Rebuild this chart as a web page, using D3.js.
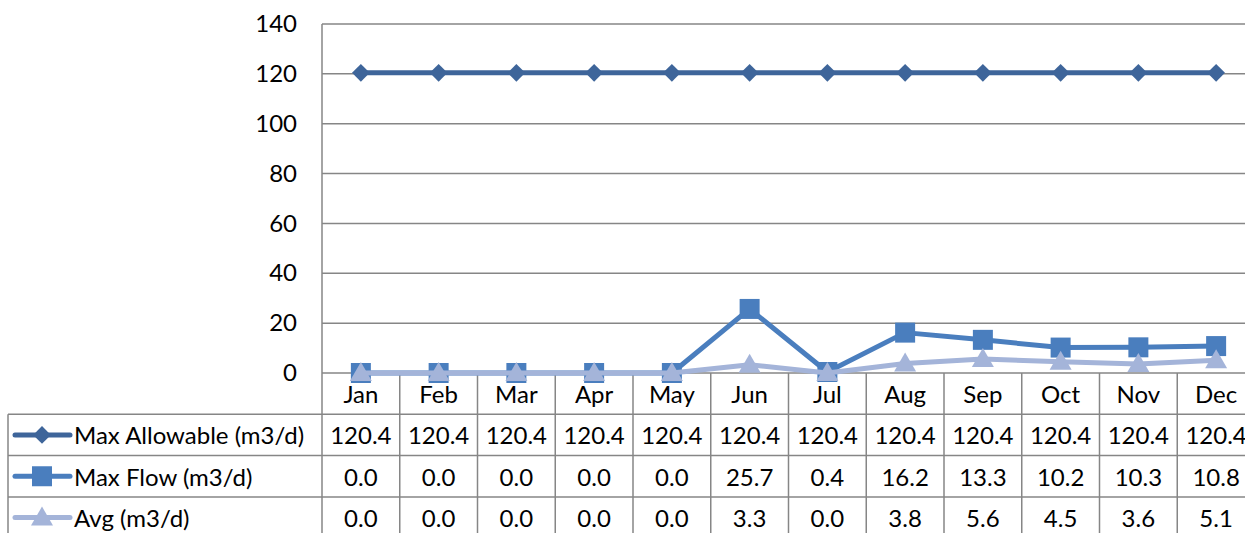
<!DOCTYPE html>
<html>
<head>
<meta charset="utf-8">
<script src="https://cdn.jsdelivr.net/npm/d3@7"></script>
<style>
  body { margin: 0; background: #fff; overflow: hidden; }
  text { font-family: Lato, "Liberation Sans", sans-serif; fill: #000; }
</style>
</head>
<body>
<svg></svg>
<script>
let months = ["Jan","Feb","Mar","Apr","May","Jun","Jul","Aug","Sep","Oct","Nov","Dec"];
let seriesNames = ["Max Allowable (m3/d)", "Max Flow (m3/d)", "Avg (m3/d)"];
let maxAllowable = [120.4,120.4,120.4,120.4,120.4,120.4,120.4,120.4,120.4,120.4,120.4,120.4];
let maxFlow = [0.0,0.0,0.0,0.0,0.0,25.7,0.4,16.2,13.3,10.2,10.3,10.8];
let avgFlow = [0.0,0.0,0.0,0.0,0.0,3.3,0.0,3.8,5.6,4.5,3.6,5.1];
let yTicks = [0,20,40,60,80,100,120,140];

let width = 1245;
let height = 533;
let plotLeft = 322;
let plotTop = 24;
let plotBottom = 373;
let colW = 77.75;
let rowH = 41.3;
let tableLeft = 8;
let gridColor = "#868686";
let fontSize = 24;

let series = [
  {name: seriesNames[0], values: maxAllowable, color: "#3E659A", marker: "diamond"},
  {name: seriesNames[1], values: maxFlow, color: "#4A7EBE", marker: "square"},
  {name: seriesNames[2], values: avgFlow, color: "#A4B4D9", marker: "triangle"}
];

let svg = d3.select("svg").attr("width", width).attr("height", height);

let xScale = d3.scaleBand()
               .domain(months)
               .range([plotLeft, plotLeft + colW * months.length]);

let yScale = d3.scaleLinear()
               .domain([0, 140])
               .range([plotBottom, plotTop]);

// horizontal grid + y labels
let yAxis = d3.axisLeft(yScale).tickValues(yTicks).tickSize(0).tickPadding(25);
let yG = svg.append("g")
   .attr("transform", "translate(" + plotLeft + ",0)")
   .call(yAxis);
yG.select(".domain").remove();
yG.selectAll("text").style("font-size", fontSize + "px").attr("font-family", "Lato");

svg.append("g").selectAll("line")
   .data(yTicks)
   .enter()
   .append("line")
   .attr("x1", plotLeft)
   .attr("x2", width + 20)
   .attr("y1", d => yScale(d))
   .attr("y2", d => yScale(d))
   .attr("stroke", gridColor)
   .attr("stroke-width", 1.5);

// table rows
let rowLines = [0,1,2,3,4].map(i => plotBottom + rowH * i);
svg.append("g").selectAll("line")
   .data(rowLines.slice(1))
   .enter()
   .append("line")
   .attr("x1", tableLeft)
   .attr("x2", width + 20)
   .attr("y1", d => d)
   .attr("y2", d => d)
   .attr("stroke", gridColor)
   .attr("stroke-width", 1.5);

// vertical lines
svg.append("line")
   .attr("x1", plotLeft).attr("x2", plotLeft)
   .attr("y1", plotTop).attr("y2", height + 10)
   .attr("stroke", gridColor).attr("stroke-width", 1.5);
svg.append("line")
   .attr("x1", tableLeft).attr("x2", tableLeft)
   .attr("y1", rowLines[1]).attr("y2", height + 10)
   .attr("stroke", gridColor).attr("stroke-width", 1.5);
svg.append("g").selectAll("line")
   .data(months)
   .enter()
   .append("line")
   .attr("x1", d => xScale(d) + colW)
   .attr("x2", d => xScale(d) + colW)
   .attr("y1", plotBottom)
   .attr("y2", height + 10)
   .attr("stroke", gridColor)
   .attr("stroke-width", 1.5);

// month labels
svg.append("g").selectAll("text")
   .data(months)
   .enter()
   .append("text")
   .attr("x", d => xScale(d) + colW / 2)
   .attr("y", plotBottom + rowH / 2 + 1)
   .attr("dy", "0.35em")
   .attr("text-anchor", "middle")
   .style("font-size", fontSize + "px")
   .text(d => d);

let markerPath = (type) => {
  if (type === "diamond") return d3.symbol().type(d3.symbolDiamond2).size(200)();
  if (type === "square") return "M-10,-10H10V10H-10Z";
  return "M0,-11L11,8H-11Z";
};

// table values + legend keys
series.forEach((s, i) => {
  let cy = rowLines[i + 1] + rowH / 2;
  let g = svg.append("g");
  g.selectAll("text")
   .data(s.values)
   .enter()
   .append("text")
   .attr("x", (d, j) => xScale(months[j]) + colW / 2)
   .attr("y", cy + 1)
   .attr("dy", "0.35em")
   .attr("text-anchor", "middle")
   .style("font-size", fontSize + "px")
   .text(d => d.toFixed(1));

  g.append("line")
   .attr("x1", 15).attr("x2", 70)
   .attr("y1", cy).attr("y2", cy)
   .attr("stroke", s.color).attr("stroke-width", 5).attr("stroke-linecap", "round");
  g.append("path")
   .attr("d", markerPath(s.marker))
   .attr("transform", "translate(42," + cy + ")")
   .attr("fill", s.color);
  g.append("text")
   .attr("x", 74)
   .attr("y", cy + 1)
   .attr("dy", "0.35em")
   .style("font-size", fontSize + "px")
   .text(s.name);
});

// lines and markers (draw back to front: avg last on top)
let line = d3.line()
   .x((d, j) => xScale(months[j]) + colW / 2)
   .y(d => yScale(d));

series.forEach(s => {
  svg.append("path")
     .datum(s.values)
     .attr("d", line)
     .attr("fill", "none")
     .attr("stroke", s.color)
     .attr("stroke-width", 5)
     .attr("stroke-linejoin", "round");
  svg.append("g").selectAll("path")
     .data(s.values)
     .enter()
     .append("path")
     .attr("d", markerPath(s.marker))
     .attr("transform", (d, j) => "translate(" + (xScale(months[j]) + colW / 2) + "," + yScale(d) + ")")
     .attr("fill", s.color);
});
</script>
</body>
</html>
